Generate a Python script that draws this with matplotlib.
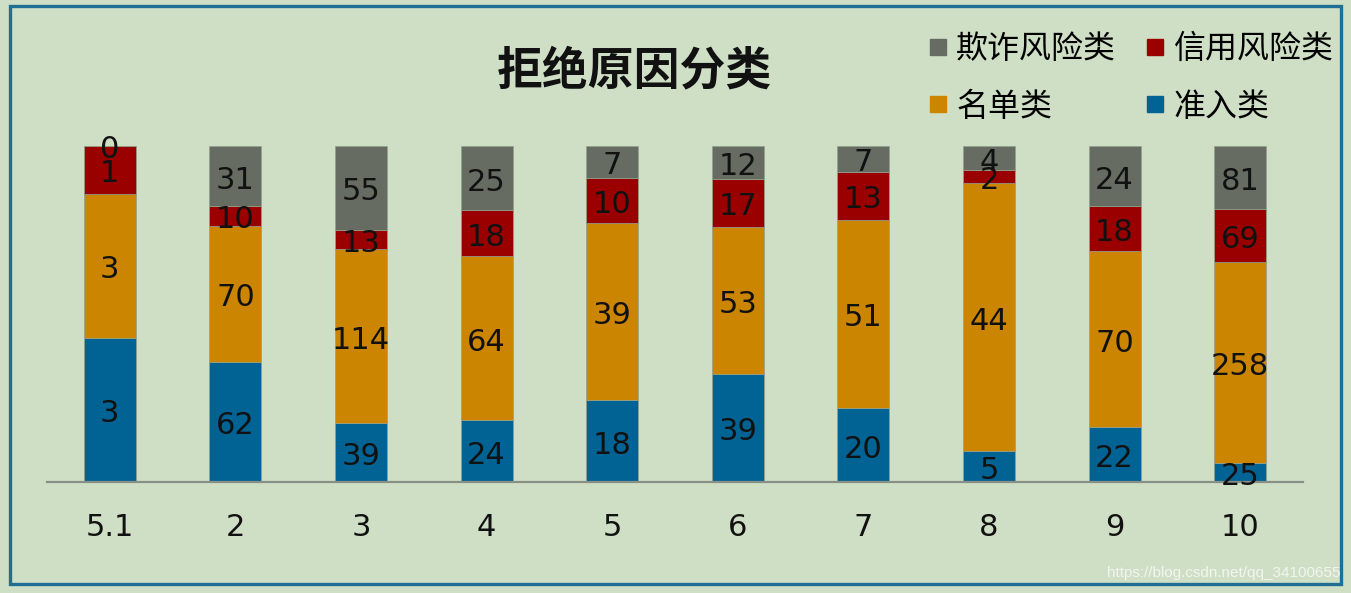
import matplotlib
matplotlib.use("Agg")
import matplotlib.pyplot as plt
from matplotlib.lines import Line2D
from matplotlib.patches import Rectangle
from matplotlib.transforms import offset_copy
import numpy as np

plt.rcParams['font.family'] = ['DejaVu Sans', 'Noto Sans CJK SC']

categories = ["5.1", "2", "3", "4", "5", "6", "7", "8", "9", "10"]
zhunru = [3, 62, 39, 24, 18, 39, 20, 5, 22, 25]          # 准入类
mingdan = [3, 70, 114, 64, 39, 53, 51, 44, 70, 258]      # 名单类
xinyong = [1, 10, 13, 18, 10, 17, 13, 2, 18, 69]         # 信用风险类
qizha = [0, 31, 55, 25, 7, 12, 7, 4, 24, 81]             # 欺诈风险类

series_names = ["准入类", "名单类", "信用风险类", "欺诈风险类"]
colors = ["#006394", "#CC8500", "#9B0000", "#676C62"]
bg = "#CFDFC5"

W, H = 1351, 593
fig = plt.figure(figsize=(W / 100, H / 100), dpi=100, facecolor=bg)

# outer border
fig.patches.append(Rectangle((9.5 / W, 1 - 584 / H), (1341 - 9.5) / W, (584 - 6) / H,
                             transform=fig.transFigure, fill=False,
                             edgecolor="#1F6E93", linewidth=2.4))

ax = fig.add_axes([47 / W, (H - 482) / H, 1256 / W, (482 - 146) / H])
ax.set_facecolor(bg)

data = np.array([zhunru, mingdan, xinyong, qizha], dtype=float)
totals = data.sum(axis=0)
frac = data / totals
x = np.arange(len(categories))
bottom = np.zeros(len(categories))
label_tf = offset_copy(ax.transData, fig=fig, x=0, y=-4, units="dots")
for i in range(4):
    ax.bar(x, frac[i], 0.415, bottom=bottom, color=colors[i],
           edgecolor="#93A08E", linewidth=0.5)
    for xi, b0, f, v in zip(x, bottom, frac[i], data[i]):
        ax.text(xi, b0 + f / 2, str(int(v)), ha="center", va="center",
                fontsize=22, color="#111111", transform=label_tf)
    bottom += frac[i]

ax.set_xlim(-0.5, len(categories) - 0.5)
ax.set_ylim(0, 1)
ax.set_xticks(x)
ax.set_xticklabels(categories, fontsize=22, color="#111111")
ax.tick_params(axis="x", length=0, pad=22)
ax.set_yticks([])
for s in ["top", "left", "right"]:
    ax.spines[s].set_visible(False)
ax.spines["bottom"].set_color("#8A8F86")
ax.spines["bottom"].set_linewidth(1.6)

fig.text(634 / W, 1 - 71 / H, "拒绝原因分类", ha="center", va="center",
         fontsize=33, fontweight="bold", family=["Noto Sans CJK SC"], color="#111111")

handles = [Line2D([], [], marker="s", linestyle="none", markersize=12,
                  markerfacecolor=colors[i], markeredgecolor=colors[i]) for i in [3, 1, 2, 0]]
labels = [series_names[i] for i in [3, 1, 2, 0]]
fig.legend(handles, labels, ncol=2, loc="upper left",
           bbox_to_anchor=(929 / W, 1 - 33 / H), frameon=False,
           prop={"family": ["Noto Sans CJK SC"], "size": 23},
           handlelength=0.55, handletextpad=0.3, columnspacing=0.95,
           labelspacing=0.8, borderpad=0, borderaxespad=0)

fig.text(1340 / W, 1 - 573 / H, "https://blog.csdn.net/qq_34100655", ha="right",
         va="center", fontsize=11, color="#F2F5EF", family=["Liberation Sans"])

fig.savefig("out.png", dpi=100, facecolor=bg)
